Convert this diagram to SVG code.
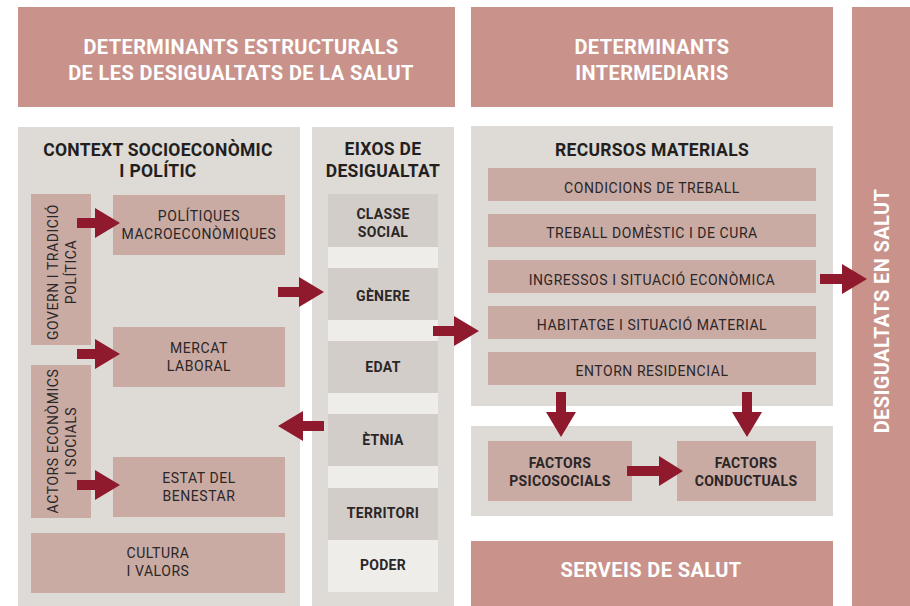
<svg xmlns="http://www.w3.org/2000/svg" width="910" height="606" viewBox="0 0 910 606">
<style>
.hdr{fill:#c9938b}
.pan{fill:#dedad5}
.box{fill:#c9aba3}
.gbox{fill:#d2cdc8}
.lite{fill:#efedea}
.arr{fill:#8f1a2d}
text{font-family:Roboto,"Liberation Sans",sans-serif;text-anchor:middle}
.wt{fill:#ffffff;font-weight:700;font-size:20px;letter-spacing:0.4px}
.tt{fill:#231f20;font-weight:700;font-size:17.5px;letter-spacing:0.3px}
.bt{fill:#2b2627;font-weight:700;font-size:14px;letter-spacing:0.3px}
.rt{fill:#2b2627;font-size:14px;letter-spacing:0.55px}
</style>
<rect width="910" height="606" fill="#ffffff"/>

<g id="hdr-estructurals">
<rect class="hdr" x="18" y="7" width="437" height="100"/>
<text class="wt" x="241" y="54">DETERMINANTS ESTRUCTURALS</text>
<text class="wt" x="241" y="80">DE LES DESIGUALTATS DE LA SALUT</text>
</g>
<g id="hdr-intermediaris">
<rect class="hdr" x="471" y="7" width="362" height="100"/>
<text class="wt" x="652" y="54">DETERMINANTS</text>
<text class="wt" x="652" y="80">INTERMEDIARIS</text>
</g>
<g id="desigualtats">
<rect class="hdr" x="852" y="7" width="58" height="599"/>
<text class="wt" transform="translate(889 311) rotate(-90)">DESIGUALTATS EN SALUT</text>
</g>

<g id="context">
<rect class="pan" x="18" y="127" width="282" height="479"/>
<text class="tt" x="158" y="156">CONTEXT SOCIOECONÒMIC</text>
<text class="tt" x="158" y="177">I POLÍTIC</text>
</g>
<g id="govern">
<rect class="box" x="31" y="194" width="60" height="151"/>
<text class="rt" transform="translate(58 272) rotate(-90)">GOVERN I TRADICIÓ</text>
<text class="rt" transform="translate(76 272) rotate(-90)">POLÍTICA</text>
</g>
<g id="actors">
<rect class="box" x="31" y="365" width="60" height="153"/>
<text class="rt" transform="translate(58 441) rotate(-90)">ACTORS ECONÒMICS</text>
<text class="rt" transform="translate(76 441) rotate(-90)">I SOCIALS</text>
</g>
<g id="politiques">
<rect class="box" x="113" y="195" width="172" height="60"/>
<text class="rt" x="199" y="221">POLÍTIQUES</text>
<text class="rt" x="199" y="239">MACROECONÒMIQUES</text>
</g>
<g id="mercat">
<rect class="box" x="113" y="327" width="172" height="60"/>
<text class="rt" x="199" y="353">MERCAT</text>
<text class="rt" x="199" y="371">LABORAL</text>
</g>
<g id="estat">
<rect class="box" x="113" y="457" width="172" height="60"/>
<text class="rt" x="199" y="483">ESTAT DEL</text>
<text class="rt" x="199" y="501">BENESTAR</text>
</g>
<g id="cultura">
<rect class="box" x="31" y="533" width="254" height="60"/>
<text class="rt" x="158" y="558">CULTURA</text>
<text class="rt" x="158" y="576">I VALORS</text>
</g>

<g id="eixos">
<rect class="pan" x="312" y="127" width="142" height="479"/>
<text class="tt" x="383" y="155">EIXOS DE</text>
<text class="tt" x="383" y="177">DESIGUALTAT</text>
<rect class="lite" x="328" y="194" width="110" height="398"/>
</g>
<g id="classe"><rect class="gbox" x="328" y="194" width="110" height="53"/>
<text class="bt" x="383" y="219">CLASSE</text><text class="bt" x="383" y="237">SOCIAL</text></g>
<g id="genere"><rect class="gbox" x="328" y="268" width="110" height="52"/>
<text class="bt" x="383" y="301">GÈNERE</text></g>
<g id="edat"><rect class="gbox" x="328" y="341" width="110" height="52"/>
<text class="bt" x="383" y="372">EDAT</text></g>
<g id="etnia"><rect class="gbox" x="328" y="414" width="110" height="52"/>
<text class="bt" x="383" y="445">ÈTNIA</text></g>
<g id="territori"><rect class="gbox" x="328" y="488" width="110" height="52"/>
<text class="bt" x="383" y="518">TERRITORI</text></g>
<g id="poder"><rect class="lite" x="328" y="540" width="110" height="52"/>
<text class="bt" x="383" y="570">PODER</text></g>

<g id="recursos">
<rect class="pan" x="471" y="126" width="362" height="280"/>
<text class="tt" x="652" y="156">RECURSOS MATERIALS</text>
</g>
<g id="condicions"><rect class="box" x="488" y="168" width="328" height="33"/>
<text class="rt" x="652" y="193">CONDICIONS DE TREBALL</text></g>
<g id="treball"><rect class="box" x="488" y="214" width="328" height="33"/>
<text class="rt" x="652" y="238">TREBALL DOMÈSTIC I DE CURA</text></g>
<g id="ingressos"><rect class="box" x="488" y="260" width="328" height="33"/>
<text class="rt" x="652" y="285">INGRESSOS I SITUACIÓ ECONÒMICA</text></g>
<g id="habitatge"><rect class="box" x="488" y="306" width="328" height="33"/>
<text class="rt" x="652" y="330">HABITATGE I SITUACIÓ MATERIAL</text></g>
<g id="entorn"><rect class="box" x="488" y="352" width="328" height="33"/>
<text class="rt" x="652" y="376">ENTORN RESIDENCIAL</text></g>

<g id="factors-panel"><rect class="pan" x="471" y="426" width="362" height="90"/></g>
<g id="psicosocials"><rect class="box" x="488" y="441" width="144" height="60"/>
<text class="bt" x="560" y="468">FACTORS</text><text class="bt" x="560" y="486">PSICOSOCIALS</text></g>
<g id="conductuals"><rect class="box" x="677" y="441" width="139" height="60"/>
<text class="bt" x="746" y="468">FACTORS</text><text class="bt" x="746" y="486">CONDUCTUALS</text></g>

<g id="serveis">
<rect class="hdr" x="471" y="541" width="362" height="65"/>
<text class="wt" x="651" y="577">SERVEIS DE SALUT</text>
</g>

<g id="connectors">
<polygon class="arr" points="77,218 95,218 95,208 120,223 95,238 95,228 77,228"/>
<polygon class="arr" points="77,349 95,349 95,339 120,354 95,369 95,359 77,359"/>
<polygon class="arr" points="77,480 95,480 95,470 120,485 95,500 95,490 77,490"/>
<polygon class="arr" points="278,287 299,287 299,277 324,292 299,307 299,297 278,297"/>
<polygon class="arr" points="324,421 303,421 303,411 278,426 303,441 303,431 324,431"/>
<polygon class="arr" points="433,326 454,326 454,316 479,331 454,346 454,336 433,336"/>
<polygon class="arr" points="820,274 842,274 842,264 867,279 842,294 842,284 820,284"/>
<polygon class="arr" points="556,392 566,392 566,412 576,412 561,437 546,412 556,412"/>
<polygon class="arr" points="742,392 752,392 752,412 762,412 747,437 732,412 742,412"/>
<polygon class="arr" points="627,466 659,466 659,456 683,471 659,486 659,476 627,476"/>
</g>
</svg>
